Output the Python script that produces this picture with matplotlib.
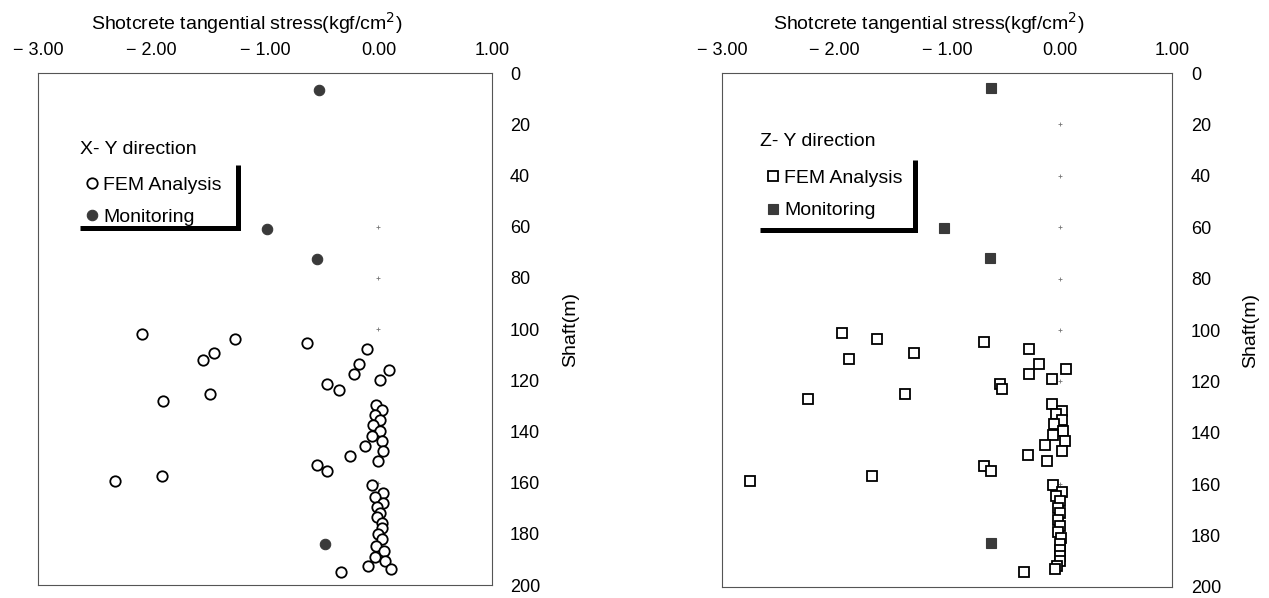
import numpy as np
import matplotlib
matplotlib.use("Agg")
import matplotlib.pyplot as plt

plt.rcParams['font.family'] = ['Liberation Sans', 'DejaVu Sans']

# X-Y direction (left panel)
xy_fem_stress = [-2.08, -1.26, -0.63, -0.10, -1.45, -1.55, -0.17, 0.09, -0.22, 0.01,
                 -0.45, -0.35, -1.48, -1.90, -0.02, 0.03, -0.03, 0.01, -0.05, 0.01,
                 -0.06, 0.03, -0.12, 0.04, -0.25, 0.00, -0.54, -0.45, -1.91, -2.32,
                 -0.06, 0.04, -0.03, 0.04, -0.01, 0.01, -0.01, 0.03, 0.03, 0.00,
                 0.03, -0.02, 0.05, -0.03, 0.06, -0.09, 0.11, -0.33]
xy_fem_depth = [101.9, 103.8, 105.5, 107.9, 109.4, 112.0, 113.6, 116.2, 117.5, 120.1,
                121.4, 124.0, 125.5, 128.0, 129.6, 131.8, 133.7, 135.7, 137.6, 139.8,
                141.9, 143.9, 145.8, 147.8, 149.7, 151.7, 153.3, 155.6, 157.5, 159.5,
                161.1, 164.0, 165.6, 167.9, 169.7, 171.8, 173.6, 175.7, 177.9, 179.9,
                181.9, 184.8, 186.6, 188.9, 190.5, 192.6, 193.6, 194.8]
xy_mon_stress = [-0.52, -0.98, -0.54, -0.47]
xy_mon_depth = [6.5, 60.8, 72.5, 184.0]

# Z-Y direction (right panel)
zy_fem_stress = [-1.93, -1.62, -0.67, -0.27, -1.29, -1.87, -0.18, 0.06, -0.27, -0.07,
                 -0.53, -0.51, -1.37, -2.24, -0.07, 0.02, -0.03, 0.02, -0.05, 0.03,
                 -0.06, 0.05, -0.13, 0.02, -0.28, -0.11, -0.67, -0.61, -1.67, -2.75,
                 -0.06, 0.02, -0.03, 0.00, -0.01, 0.00, -0.01, 0.00, -0.01, 0.01,
                 0.00, 0.00, 0.00, 0.00, -0.02, -0.04, -0.32]
zy_fem_depth = [101.1, 103.4, 104.7, 107.4, 108.8, 111.2, 113.1, 115.2, 117.0, 119.1,
                121.2, 122.8, 125.0, 127.0, 128.9, 131.5, 132.8, 135.1, 136.7, 139.3,
                141.0, 143.3, 144.9, 147.1, 148.5, 151.0, 152.8, 154.8, 156.8, 158.8,
                160.5, 163.0, 164.7, 166.7, 169.1, 171.4, 173.8, 176.1, 178.5, 180.8,
                183.1, 185.5, 187.8, 189.9, 191.9, 192.9, 194.0]
zy_mon_stress = [-0.61, -1.03, -0.62, -0.61]
zy_mon_depth = [6.0, 60.4, 72.1, 183.0]

x_ticks = [-3, -2, -1, 0, 1]
x_ticklabels = ['\u2212 3.00', '\u2212 2.00', '\u2212 1.00', '0.00', '1.00']
y_ticks = [0, 20, 40, 60, 80, 100, 120, 140, 160, 180, 200]
# small tick dots of the vertical axis crossing x = 0
xy_zero_ticks = [60, 80, 100, 120, 140, 160, 180]
zy_zero_ticks = [20, 40, 60, 80, 100, 120, 140, 160, 180]

FS = 13     # tick labels
FS_TXT = 14  # axis titles and legend

fig = plt.figure(figsize=(12.69, 5.98), dpi=100)
ax1 = fig.add_axes([0.0299, 0.0217, 0.3578, 0.8562])
ax2 = fig.add_axes([0.5690, 0.0184, 0.3546, 0.8595])


def draw_panel(ax, title, fem, mon, zero_ticks, marker, ypad, lay):
    fem_x, fem_y = fem
    mon_x, mon_y = mon
    ax.plot(np.zeros(len(zero_ticks)), zero_ticks, ls='none', marker='+', ms=2.5,
            mew=0.6, color='#777777', zorder=1)
    h1, = ax.plot(fem_x, fem_y, ls='none', marker=marker, ms=7.5, mfc='white',
                  mec='black', mew=1.3, label='FEM Analysis', zorder=3)
    h2, = ax.plot(mon_x, mon_y, ls='none', marker=marker, ms=7.5, mfc='#3a3a3a',
                  mec='#3a3a3a', mew=0.8, label='Monitoring', zorder=4)
    ax.set_xlim(-3, 1)
    ax.set_ylim(200, 0)
    ax.xaxis.tick_top()
    ax.xaxis.set_label_position('top')
    ax.yaxis.tick_right()
    ax.yaxis.set_label_position('right')
    ax.set_xticks(x_ticks)
    ax.set_xticklabels(x_ticklabels)
    ax.set_yticks(y_ticks)
    ax.tick_params(axis='x', length=0, pad=10, labelsize=FS)
    ax.tick_params(axis='y', length=0, pad=ypad, labelsize=FS)
    ax.set_xlabel('Shotcrete tangential stress(kgf/cm$^2$)', fontsize=FS_TXT)
    ax.xaxis.set_label_coords(0.46, 1.085)
    ax.set_ylabel('Shaft(m)', fontsize=FS_TXT)
    ax.yaxis.set_label_coords(lay['ylab_x'], 0.5)
    for sp in ax.spines.values():
        sp.set_color('#555555')
        sp.set_linewidth(0.8)

    # legend: title above, two entries, thick shadow on right and bottom
    ax.text(lay['title'][0], lay['title'][1], title, transform=ax.transAxes,
            fontsize=FS_TXT, ha='left', va='center')
    ax.legend(handles=[h1, h2], loc='upper left', bbox_to_anchor=lay['anchor'],
              frameon=False, fontsize=FS_TXT, handlelength=0.55, handletextpad=0.3,
              borderpad=0, borderaxespad=0, labelspacing=0.75)
    sx, sy_top, sy_bot, bx0 = lay['shadow']
    ax.plot([bx0, sx, sx], [sy_bot, sy_bot, sy_top], transform=ax.transAxes,
            color='black', lw=3.6, solid_capstyle='butt', solid_joinstyle='miter',
            clip_on=False, zorder=5)


draw_panel(ax1, 'X- Y direction', (xy_fem_stress, xy_fem_depth),
           (xy_mon_stress, xy_mon_depth), xy_zero_ticks, 'o', 13,
           {'title': (0.0925, 0.850), 'anchor': (0.107, 0.799),
            'shadow': (0.4405, 0.820, 0.697, 0.0925), 'ylab_x': 1.155})
draw_panel(ax2, 'Z- Y direction', (zy_fem_stress, zy_fem_depth),
           (zy_mon_stress, zy_mon_depth), zy_zero_ticks, 's', 13.5,
           {'title': (0.084, 0.866), 'anchor': (0.101, 0.812),
            'shadow': (0.429, 0.831, 0.695, 0.084), 'ylab_x': 1.155})

fig.savefig('out.png', dpi=100)
